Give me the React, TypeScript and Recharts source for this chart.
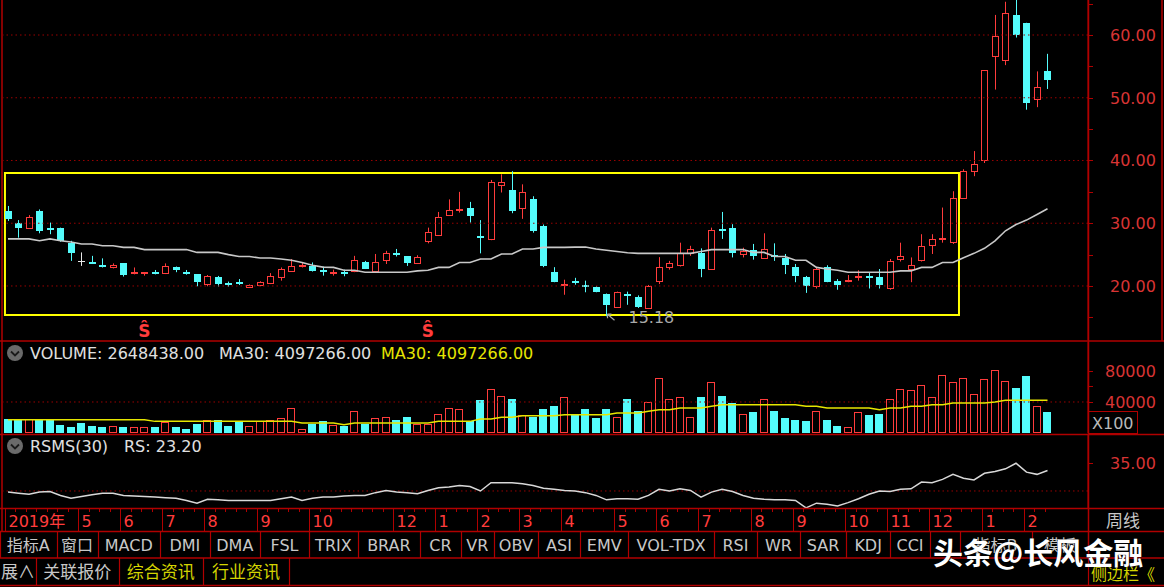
import React from 'react';
import { ComposedChart, Bar, Line, XAxis, YAxis, ReferenceLine, ReferenceArea, ReferenceDot } from 'recharts';

// ---------------- data ----------------
const opens = [31.96,30.1,29.15,31.96,29.3,29.3,26.8,24.0,23.9,23.3,22.8,23.6,21.85,21.85,22.2,21.9,23.1,22.3,21.9,20.2,21.5,20.5,20.6,19.75,19.95,20.3,21.2,22.3,22.95,23.2,22.5,22.1,22.3,22.2,23.85,22.2,24.0,25.2,24.7,23.5,27.0,28.0,31.2,32.0,32.5,27.9,27.3,35.9,35.3,32.3,33.9,29.6,22.2,20.2,20.85,20.1,19.8,18.8,16.5,18.8,18.2,16.35,20.7,22.8,23.2,25.1,25.25,22.6,29.05,29.2,24.9,25.8,24.3,24.9,24.4,23.0,21.4,19.8,23.1,20.85,20.7,21.2,21.6,21.5,19.5,24.2,22.6,24.0,26.3,27.4,26.9,33.9,38.2,39.9,56.5,55.8,63.2,61.95,49.7,54.2];
const highs = [32.75,30.5,31.3,32.2,30.1,29.3,27.2,25.35,24.8,24.4,23.6,23.6,22.95,22.2,22.55,23.6,23.1,22.55,21.9,21.75,21.6,20.7,21.1,20.25,20.75,22.05,22.95,24.3,23.75,23.75,23.1,22.6,22.6,24.8,24.0,25.1,25.6,25.9,24.7,24.9,29.3,31.8,33.8,35.0,33.4,30.5,36.9,37.8,38.3,36.2,34.3,29.8,23.0,21.0,21.3,20.85,19.95,18.8,19.1,19.1,18.5,20.16,24.6,24.0,26.9,26.4,26.0,29.3,31.8,29.85,26.1,26.7,28.4,26.8,25.1,23.5,21.6,22.95,23.3,21.1,21.75,22.5,22.2,22.7,24.3,26.9,24.55,28.25,28.25,32.5,35.1,38.6,41.5,54.35,63.2,65.3,66.0,61.95,54.2,57.0];
const lows = [30.37,27.7,29.15,28.4,28.25,27.05,24.0,23.2,23.5,22.95,22.8,21.5,21.85,21.65,21.85,21.9,22.2,21.8,19.95,19.95,19.9,19.9,20.15,19.75,19.95,20.3,20.85,22.3,22.95,22.3,21.65,21.65,21.55,22.2,22.7,22.2,23.5,24.7,23.2,23.5,26.8,28.0,31.2,31.7,30.1,25.2,27.3,34.9,31.6,30.7,28.5,23.0,20.6,18.6,20.2,19.0,19.0,15.18,16.5,17.0,16.5,16.35,20.3,22.6,23.1,24.8,21.4,22.6,27.5,24.55,24.55,24.2,24.3,24.0,21.9,20.6,18.9,19.6,20.6,19.4,20.6,20.85,19.6,19.6,19.4,23.9,20.6,23.9,25.1,26.9,26.7,33.9,37.5,39.6,51.3,55.2,59.6,48.1,48.5,51.4];
const closes = [30.6,29.2,31.05,28.8,29.1,27.2,25.2,24.0,23.8,22.95,23.4,21.75,22.2,22.2,21.85,23.2,22.5,21.9,20.6,21.6,20.3,20.4,20.5,20.15,20.6,21.6,22.7,23.2,23.3,22.4,22.4,22.3,22.15,24.1,22.7,23.85,25.2,25.0,23.65,24.55,28.6,31.05,32.1,32.3,31.2,27.8,36.6,36.6,32.0,35.0,28.8,23.2,20.7,20.3,20.5,20.0,19.0,16.9,19.1,18.5,16.6,20.05,23.1,23.65,25.2,25.9,22.7,28.9,28.9,25.2,25.6,24.7,25.9,24.75,23.3,21.6,19.95,22.7,20.7,20.2,21.0,21.55,21.5,20.15,24.0,24.8,23.3,26.3,27.5,27.6,34.1,38.3,39.4,54.35,59.85,63.5,60.0,49.2,51.7,52.75];
const ma30Price = [27.5,27.5,27.5,27.2,27.5,27.2,27.0,26.7,26.7,26.4,26.4,26.15,26.15,25.8,25.8,25.8,25.8,25.8,25.35,25.35,25.35,25.0,24.7,24.7,24.45,24.45,24.3,24.1,23.75,23.3,23.0,22.96,22.5,22.5,22.2,22.2,22.2,22.2,22.2,22.4,22.5,22.96,22.96,23.75,23.75,24.3,24.3,25.1,25.1,25.9,25.9,26.15,26.15,26.15,26.2,26.2,25.9,25.7,25.5,25.3,25.2,25.2,25.2,25.2,25.2,25.2,25.5,25.8,25.8,25.8,25.8,25.35,25.35,24.7,24.7,24.1,24.1,22.96,22.7,22.5,22.2,22.2,22.2,22.2,22.2,22.4,22.4,22.96,22.96,23.75,23.75,24.5,25.2,26.0,27.2,28.8,29.8,30.5,31.4,32.3];
const volumes = [18500,18500,18500,18500,16300,10750,7300,12900,9500,7300,8600,7700,7300,7300,7700,14200,7700,5600,11600,16800,17200,9500,14200,9500,15000,16800,19400,32000,5200,12000,15000,10800,9500,28800,12000,19400,20600,17200,20600,11600,12000,25000,32000,31000,15900,42000,57000,48000,43800,23600,20600,31000,34400,46000,23600,30500,19000,31000,20600,43900,28800,40000,71000,43900,46000,20600,46400,65400,48200,38700,25000,27100,43900,28800,19400,17200,15000,28800,17200,9500,7300,26700,22800,25000,43900,57200,55900,61500,46000,75300,65400,71000,50300,69700,80800,66700,58000,73100,34400,27100];
const volMa30 = [17200,17200,17200,17200,17200,17200,17200,17200,17200,17200,17200,17200,17200,17200,15000,15000,15000,15000,15000,15000,15000,15000,15000,15000,15000,15000,15000,15000,12900,12900,12900,12900,10750,12900,12900,12900,12900,12900,12900,12900,12900,15000,15000,15000,15000,18000,18000,20200,20200,22400,22400,22400,22400,23600,23600,23600,23600,23600,25800,25800,25800,28000,30100,30100,32200,32200,32200,34400,36500,36500,36500,36500,36500,36500,36500,36500,34400,34400,32200,32200,32200,32200,32200,30100,32200,32200,34400,34400,36500,36500,38700,38700,38700,38700,40000,42100,42100,42100,42100,42100];
const rsmsValues = [29.8,29.6,29.4,29.8,29.9,29.2,28.7,29.0,29.3,29.6,29.6,29.2,29.1,29.0,28.9,28.8,28.7,28.3,27.8,28.5,28.4,28.3,28.3,28.3,28.3,28.3,28.6,28.9,28.3,28.7,28.9,28.9,29.1,29.2,29.2,29.7,30.1,29.8,29.7,29.5,30.1,30.6,30.7,31.0,30.8,30.0,31.5,31.5,31.5,31.3,31.0,30.5,30.3,30.1,30.0,29.7,29.2,28.4,28.6,28.6,28.5,29.2,30.3,30.0,30.4,30.1,28.9,29.8,30.3,29.9,29.2,28.7,28.5,28.4,28.4,28.3,26.95,27.8,27.6,27.3,27.9,28.6,29.4,30.0,29.9,30.3,30.4,31.6,31.5,32.1,33.0,32.3,32.0,33.2,33.5,34.0,35.0,33.4,33.0,33.7];

const monthTickIdx = [0,7,11,15,19,24,29,37,41,45,49,53,58,62,66,71,75,80,84,88,93,97];
const monthLabels = ['2019年','5','6','7','8','9','10','12','1','2','3','4','5','6','7','8','9','10','11','12','1','2'];

const priceTicks = [15,20,25,30,35,40,45,50,55,60,65];
const priceGrid = [20,30,40,50,60];
const volTicks = [40000,60000,80000];
const volGrid = [40000];
const rsmsTicks = [35];
const rsmsGrid = [30];
const signalIdx = [13, 40];
const lowMarkIdx = 57;

const volumeHeader = { vol: '2648438.00', ma: '4097266.00' };
const rsmsHeader = { name: 'RSMS(30)', rs: '23.20' };

const tabRow1: [string, number, number][] = [
  ['指标A',0,56.6],['窗口',56.6,97.6],['MACD',97.6,160],['DMI',160,209.7],['DMA',209.7,260],['FSL',260,309],
  ['TRIX',309,357.8],['BRAR',357.8,420],['CR',420,461],['VR',461,493.7],['OBV',493.7,538],['ASI',538,580],
  ['EMV',580,628.4],['VOL-TDX',628.4,714],['RSI',714,757],['WR',757,799.7],['SAR',799.7,846.3],['KDJ',846.3,890],
  ['CCI',890,930],['',930,960],['指标B',960,1032],['模板',1032,1088]
];
const tabRow2: [string, number, number, boolean][] = [
  ['展∧',0,36,false],['关联报价',36,118.6,false],['综合资讯',118.6,203,true],['行业资讯',203,289,true]
];

// ---------------- table ----------------
const data = opens.map((o, i) => ({
  idx: i,
  open: o,
  high: highs[i],
  low: lows[i],
  close: closes[i],
  range: [lows[i], highs[i]],
  ma: ma30Price[i],
  vol: volumes[i],
  volMa: volMa30[i],
  rs: rsmsValues[i],
}));

// ---------------- style ----------------
const RED = '#ff3c3c';
const CYAN = '#54fcfc';
const LINE_RED = '#b00000';
const GRID_RED = '#9a0000';
const LABEL_RED = '#d83434';
const GREY = '#c8c8c8';
const YELLOW = '#e6e600';
const LATIN = "'DejaVu Sans', 'Noto Sans CJK SC', sans-serif";
const CJK = "'Noto Sans CJK SC', 'DejaVu Sans', sans-serif";
const X_DOMAIN: [number, number] = [-0.476, 102.857];
const W = 1164;
const AXIS_W = 76;
const MARGIN = { top: 0, right: 0, bottom: 0, left: 3 };

const px = (v: number) => Math.round(v) + 0.5;

function CandleShape(props: any) {
  const { x, y, width, height, payload } = props;
  if (!payload || x == null) return null;
  const yTop = Math.min(y, y + height);
  const h = Math.abs(height);
  const span = payload.high - payload.low;
  const k = span > 0 ? h / span : 0;
  const yOf = (v: number) => yTop + (payload.high - v) * k;
  const yO = yOf(payload.open);
  const yC = yOf(payload.close);
  const bTop = Math.round(Math.min(yO, yC));
  const bBot = Math.round(Math.max(yO, yC));
  const cx = px(x + width / 2 - 0.5);
  const up = payload.close > payload.open;
  const flat = payload.close === payload.open;
  const color = flat ? '#e8e8e8' : up ? RED : CYAN;
  const left = Math.round(x);
  const w = Math.round(width);
  return (
    <g>
      <line x1={cx} x2={cx} y1={yTop} y2={bTop} stroke={color} strokeWidth={1} />
      <line x1={cx} x2={cx} y1={bBot} y2={yTop + h} stroke={color} strokeWidth={1} />
      {up ? (
        <rect x={left + 0.5} y={bTop + 0.5} width={w - 1} height={Math.max(bBot - bTop - 1, 1)} fill="#000" stroke={color} strokeWidth={1} />
      ) : flat ? (
        <line x1={left} x2={left + w} y1={bTop + 0.5} y2={bTop + 0.5} stroke={color} strokeWidth={1} />
      ) : (
        <rect x={left} y={bTop} width={w} height={Math.max(bBot - bTop, 2)} fill={color} />
      )}
    </g>
  );
}

function VolShape(props: any) {
  const { x, y, width, height, payload } = props;
  if (!payload || x == null) return null;
  const up = payload.close > payload.open;
  const left = Math.round(x);
  const w = Math.round(width);
  const top = Math.round(y);
  const bot = Math.round(y + height);
  return up ? (
    <rect x={left + 0.5} y={top + 0.5} width={w - 1} height={Math.max(bot - top - 1, 1)} fill="#000" stroke={RED} strokeWidth={1} />
  ) : (
    <rect x={left} y={top} width={w} height={bot - top} fill={CYAN} />
  );
}

function makeYTick(labelFn: (v: number) => string | null, dx: number) {
  return (props: any) => {
    const { x, y, payload } = props;
    const v = payload.value;
    const label = labelFn(v);
    return (
      <g>
        <line x1={x} x2={x + 5} y1={px(y)} y2={px(y)} stroke={LINE_RED} strokeWidth={1} />
        {label && (
          <text x={x + dx} y={y + 6} fill={LABEL_RED} fontSize={16} fontFamily={LATIN}>{label}</text>
        )}
      </g>
    );
  };
}

const PriceTick = makeYTick((v) => (v % 10 === 0 ? v.toFixed(2) : null), 22);
const VolTick = makeYTick((v) => (v % 40000 === 0 ? String(v) : null), 17);
const RsTick = makeYTick((v) => v.toFixed(2), 22);

function DateTick(props: any) {
  const { x, y, payload } = props;
  const i = payload.value;
  const k = monthTickIdx.indexOf(i);
  const lx = px(x - 3);
  if (k >= 0) {
    return (
      <g>
        <line x1={lx} x2={lx} y1={y} y2={y + 23} stroke={LINE_RED} strokeWidth={1} />
        <text x={lx + 3} y={y + 19} fill={RED} fontSize={16} fontFamily={LATIN}>{monthLabels[k]}</text>
      </g>
    );
  }
  return <line x1={lx} x2={lx} y1={y} y2={y + 4} stroke={LINE_RED} strokeWidth={1} />;
}

function SignalMark(props: any) {
  const { cx, cy } = props;
  return (
    <text x={cx} y={cy + 7} textAnchor="middle" fill={RED} fontSize={17} fontWeight={700} fontFamily={LATIN}>Ŝ</text>
  );
}

function LowMark(props: any) {
  const { cx, cy } = props;
  return (
    <g>
      <path d={`M${cx + 8},${cy + 4} L${cx + 1},${cy - 2} M${cx + 1},${cy - 2} L${cx + 5},${cy - 2} M${cx + 1},${cy - 2} L${cx + 1},${cy + 2}`} stroke="#a8a8a8" strokeWidth={1.2} fill="none" />
      <text x={cx + 22} y={cy + 7} fill="#a8a8a8" fontSize={16} fontFamily={LATIN}>{lows[lowMarkIdx].toFixed(2)}</text>
    </g>
  );
}

function PanelIcon({ x, y }: { x: number; y: number }) {
  return (
    <g>
      <circle cx={x} cy={y} r={8} fill="#6a6a6a" />
      <path d={`M${x - 4},${y - 1.5} L${x},${y + 2.5} L${x + 4},${y - 1.5}`} stroke="#1a1a1a" strokeWidth={1.8} fill="none" />
    </g>
  );
}

function Overlay() {
  const hLines = [341, 434.5, 508.5, 531.5, 558, 585.5];
  return (
    <svg width={W} height={587} style={{ position: 'absolute', left: 0, top: 0, pointerEvents: 'none' }}>
      {hLines.map((y) => (
        <line key={y} x1={0} x2={W} y1={y} y2={y} stroke={LINE_RED} strokeWidth={1.5} />
      ))}
      <line x1={2} x2={2} y1={0} y2={531.5} stroke={LINE_RED} strokeWidth={1.5} />
      <line x1={1088.5} x2={1088.5} y1={0} y2={558} stroke={LINE_RED} strokeWidth={1.5} />
      <line x1={1162} x2={1162} y1={0} y2={341} stroke={LINE_RED} strokeWidth={1.5} />

      {/* volume header */}
      <PanelIcon x={15} y={353} />
      <text x={30} y={359} fill="#e0e0e0" fontSize={16} fontFamily={LATIN}>{`VOLUME: ${volumeHeader.vol}`}</text>
      <text x={219} y={359} fill="#e0e0e0" fontSize={16} fontFamily={LATIN}>{`MA30: ${volumeHeader.ma}`}</text>
      <text x={381} y={359} fill={YELLOW} fontSize={16} fontFamily={LATIN}>{`MA30: ${volumeHeader.ma}`}</text>
      <rect x={1088.5} y={411.5} width={49} height={22} fill="none" stroke={LINE_RED} strokeWidth={1} />
      <text x={1092} y={429} fill="#b8b8b8" fontSize={16} fontFamily={LATIN}>X100</text>

      {/* rsms header */}
      <PanelIcon x={15} y={446} />
      <text x={30} y={452} fill="#e0e0e0" fontSize={16} fontFamily={LATIN}>{rsmsHeader.name}</text>
      <text x={124} y={452} fill="#e0e0e0" fontSize={16} fontFamily={LATIN}>{`RS: ${rsmsHeader.rs}`}</text>

      {/* period cell */}
      <text x={1106} y={527} fill={GREY} fontSize={17} fontFamily={CJK}>周线</text>

      {/* tab row 1 */}
      {tabRow1.map(([t, a, b]) => (
        <g key={`r1-${a}`}>
          <line x1={px(a)} x2={px(a)} y1={531.5} y2={558} stroke={LINE_RED} strokeWidth={1.2} />
          {t && (
            <text x={(a + b) / 2} y={551} textAnchor="middle" fill={GREY} fontSize={16} fontFamily={LATIN}>{t}</text>
          )}
        </g>
      ))}
      {/* tab row 2 */}
      {tabRow2.map(([t, a, b, hi]) => (
        <g key={`r2-${a}`}>
          <line x1={px(b)} x2={px(b)} y1={558} y2={585.5} stroke={LINE_RED} strokeWidth={1.2} />
          <text x={(a + b) / 2} y={578} textAnchor="middle" fill={hi ? '#d4d400' : GREY} fontSize={17} fontFamily={CJK}>{t}</text>
        </g>
      ))}
      <line x1={1088.5} x2={1088.5} y1={558} y2={585.5} stroke={LINE_RED} strokeWidth={1.2} />
      <text x={1091} y={580} fill="#d4d400" fontSize={16} fontFamily={CJK}>侧边栏《</text>

      {/* watermark */}
      <text x={933} y={564} fill="#ffffff" fontSize={30} fontWeight={700} fontFamily={CJK} stroke="#000" strokeWidth={0.6} paintOrder="stroke">头条@长风金融</text>
    </svg>
  );
}

export default function App() {
  return (
    <div style={{ position: 'fixed', left: 0, top: 0, width: W, height: 587, background: '#000', overflow: 'hidden' }}>
      {/* price panel */}
      <div style={{ position: 'absolute', left: 0, top: 0 }}>
        <ComposedChart width={W} height={340} data={data} margin={MARGIN}>
          <XAxis type="number" dataKey="idx" domain={X_DOMAIN} allowDataOverflow hide />
          <YAxis
            orientation="right"
            width={AXIS_W}
            domain={[11.39, 65.58]}
            allowDataOverflow
            ticks={priceTicks}
            interval={0}
            tickSize={0}
            tickMargin={0}
            tickLine={false}
            axisLine={{ stroke: LINE_RED }}
            tick={PriceTick}
          />
          {priceGrid.map((g) => (
            <ReferenceLine key={g} y={g} stroke={GRID_RED} strokeDasharray="1.5 3" strokeWidth={1} />
          ))}
          <ReferenceArea x1={-0.29} x2={90.57} y1={15.38} y2={38.0} fill="none" stroke="#ffff00" strokeWidth={2} />
          <Bar dataKey="range" barSize={7} shape={CandleShape} isAnimationActive={false} />
          <Line dataKey="ma" type="linear" stroke="#c8c8c8" strokeWidth={1.6} dot={false} activeDot={false} isAnimationActive={false} />
          {signalIdx.map((i) => (
            <ReferenceDot key={i} x={i} y={12.99} r={0} shape={SignalMark} />
          ))}
          <ReferenceDot x={lowMarkIdx} y={lows[lowMarkIdx]} r={0} shape={LowMark} />
        </ComposedChart>
      </div>

      {/* volume panel */}
      <div style={{ position: 'absolute', left: 0, top: 342 }}>
        <ComposedChart width={W} height={91} data={data} margin={MARGIN}>
          <XAxis type="number" dataKey="idx" domain={X_DOMAIN} allowDataOverflow hide />
          <YAxis
            orientation="right"
            width={AXIS_W}
            domain={[0, 117400]}
            allowDataOverflow
            ticks={volTicks}
            interval={0}
            tickSize={0}
            tickMargin={0}
            tickLine={false}
            axisLine={{ stroke: LINE_RED }}
            tick={VolTick}
          />
          {volGrid.map((g) => (
            <ReferenceLine key={g} y={g} stroke={GRID_RED} strokeDasharray="1.5 3" strokeWidth={1} />
          ))}
          <Bar dataKey="vol" barSize={8} shape={VolShape} isAnimationActive={false} />
          <Line dataKey="volMa" type="linear" stroke={YELLOW} strokeWidth={1.5} dot={false} activeDot={false} isAnimationActive={false} />
        </ComposedChart>
      </div>

      {/* RSMS panel + date axis */}
      <div style={{ position: 'absolute', left: 0, top: 435 }}>
        <ComposedChart width={W} height={96} data={data} margin={MARGIN}>
          <XAxis
            type="number"
            dataKey="idx"
            domain={X_DOMAIN}
            allowDataOverflow
            ticks={data.map((d) => d.idx)}
            interval={0}
            height={23}
            tickSize={0}
            tickMargin={0}
            tickLine={false}
            axisLine={false}
            tick={DateTick}
          />
          <YAxis
            orientation="right"
            width={AXIS_W}
            domain={[26.93, 40.1]}
            allowDataOverflow
            ticks={rsmsTicks}
            interval={0}
            tickSize={0}
            tickMargin={0}
            tickLine={false}
            axisLine={{ stroke: LINE_RED }}
            tick={RsTick}
          />
          {rsmsGrid.map((g) => (
            <ReferenceLine key={g} y={g} stroke={GRID_RED} strokeDasharray="1.5 3" strokeWidth={1} />
          ))}
          <Line dataKey="rs" type="linear" stroke="#d8d8d8" strokeWidth={1.5} dot={false} activeDot={false} isAnimationActive={false} />
        </ComposedChart>
      </div>

      <Overlay />
    </div>
  );
}
